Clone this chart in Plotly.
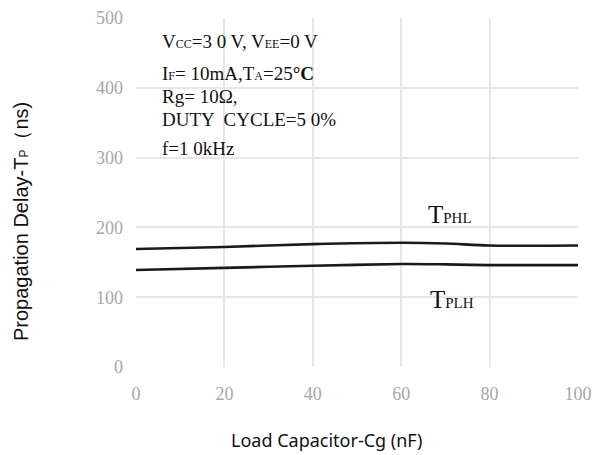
import plotly.graph_objects as go

cap_nf = [0, 20, 40, 60, 70, 80, 100]
tphl = [169, 172, 176, 178, 177, 174, 174]
tplh = [139, 142, 145, 147.5, 147, 146, 146]
x_ticks = [0, 20, 40, 60, 80, 100]
y_ticks = [0, 100, 200, 300, 400, 500]

W, H = 608, 455
L, R, T, B = 136, 30, 18, 88

fig = go.Figure()
for ys in (tphl, tplh):
    fig.add_trace(go.Scatter(x=cap_nf, y=ys, mode="lines",
                             line=dict(color="#1a1a1a", width=2.6, shape="spline", smoothing=0.8),
                             showlegend=False, hoverinfo="skip"))

tickfont = dict(family="Liberation Serif", size=18, color="#a6a6a6")
fig.update_layout(
    width=W, height=H, margin=dict(l=L, r=R, t=T, b=B, autoexpand=False),
    paper_bgcolor="white", plot_bgcolor="white",
    xaxis=dict(range=[0, 100], tickvals=x_ticks, showgrid=True, gridcolor="#e6e6e6", gridwidth=1.5,
               zeroline=False, showline=False, ticks="", ticklabelstandoff=14, tickfont=tickfont),
    yaxis=dict(range=[0, 500], tickvals=y_ticks, showgrid=True, gridcolor="#e6e6e6", gridwidth=1.5,
               zeroline=False, showline=False, ticks="", ticklabelstandoff=12, tickfont=tickfont),
)


def ax(p):
    return (p - L) / (W - L - R)


def ay(p):
    return (H - B - p) / (H - T - B)


serif = dict(family="Liberation Serif", size=19, color="#111")
sub = "<span style='font-size:12px'>{}</span>"
lines = [
    ("V" + sub.format("CC") + "=3 0 V, V" + sub.format("EE") + "=0 V", 42),
    ("I" + sub.format("F") + "= 10mA,T" + sub.format("A") + "=25<b>°C</b>", 73),
    ("Rg= 10Ω,", 96),
    ("DUTY  CYCLE=5 0%", 120),
    ("f=1 0kHz", 148),
]
for txt, yp in lines:
    fig.add_annotation(xref="paper", yref="paper", x=ax(160), y=ay(yp), text=txt,
                       showarrow=False, xanchor="left", yanchor="middle", font=serif)

lab = dict(family="Liberation Serif", size=25, color="#111")
fig.add_annotation(xref="paper", yref="paper", x=ax(426), y=ay(214),
                   text="T<span style='font-size:15px'>PHL</span>", showarrow=False,
                   xanchor="left", yanchor="middle", font=lab)
fig.add_annotation(xref="paper", yref="paper", x=ax(428), y=ay(299),
                   text="T<span style='font-size:15px'>PLH</span>", showarrow=False,
                   xanchor="left", yanchor="middle", font=lab)

fig.add_annotation(xref="paper", yref="paper", x=ax(326), y=ay(440),
                   text="Load Capacitor-Cg (nF)", showarrow=False,
                   xanchor="center", yanchor="middle",
                   font=dict(family="Noto Sans", size=18, color="#111"))
fig.add_annotation(xref="paper", yref="paper", x=ax(21), y=ay(221),
                   text="Propagation Delay-T<span style='font-size:12px'>P</span>（ns)", showarrow=False,
                   textangle=-90, xanchor="center", yanchor="middle",
                   font=dict(family="Liberation Sans", size=20, color="#111"))

fig.write_html("out.html", config={"displayModeBar": False},
               post_script="document.body.style.margin='0px';")
